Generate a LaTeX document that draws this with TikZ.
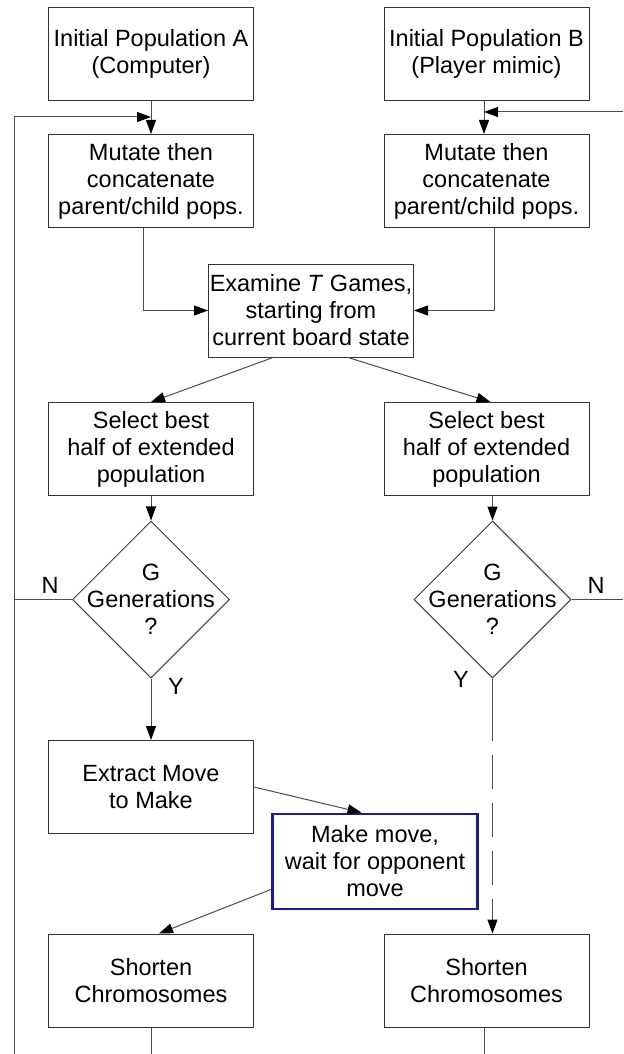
\documentclass[tikz,border=0pt]{standalone}
\usepackage{fontspec}
\setmainfont{Liberation Sans}
\usetikzlibrary{arrows.meta, shapes.geometric}
\definecolor{moveblue}{RGB}{28,28,138}

\begin{document}
\begin{tikzpicture}[x=0.5pt, y=-0.5pt, line width=0.5pt,
    every node/.style={font=\fontsize{11.75}{13.5}\selectfont},
    box/.style={draw=black!80, align=center, minimum width=102.5pt, minimum height=46.5pt, inner sep=0pt},
    decision/.style={draw=black!75, diamond, aspect=1, minimum size=78.5pt, inner sep=0pt},
    link/.style={draw=black!70, -{Triangle[length=7pt, width=5pt, color=black]}}]
        \useasboundingbox (0,0) rectangle (623,1054);

        % The two populations
        \node[box] (iniA) at (151,54) {Initial Population A\\(Computer)};
        \node[box] (iniB) at (486.5,54) {Initial Population B\\(Player mimic)};
        \node[box] (mutA) at (151,181) {Mutate then\\concatenate\\parent/child pops.};
        \node[box] (mutB) at (486.5,181) {Mutate then\\concatenate\\parent/child pops.};

        % The shared evaluation
        \node[box] (exam) at (311,310.5) {Examine \textit{T} Games,\\starting from\\current board state};
        \node[box] (selA) at (151,449) {Select best\\half of extended\\population};
        \node[box] (selB) at (486.5,449) {Select best\\half of extended\\population};

        % The generation tests
        \node[decision] (genA) at (151,599.5) {};
        \node[align=center] (genAtext) at (genA) {G\\Generations\\?};
        \node[decision] (genB) at (492.5,599.5) {};
        \node[align=center] (genBtext) at (genB) {G\\Generations\\?};
        \node (nA) at (50,585) {N};
        \node (nB) at (596,585) {N};
        \node (yA) at (176,686) {Y};
        \node (yB) at (461,679) {Y};

        % The move
        \node[box] (extA) at (151,787) {Extract Move\\to Make};
        \node[box, draw=moveblue, line width=1.4pt, minimum width=102.75pt, minimum height=47.5pt] (make) at (375,861.5) {Make move,\\wait for opponent\\move};
        \node[box] (shoA) at (151,980.5) {Shorten\\Chromosomes};
        \node[box] (shoB) at (486.5,980.5) {Shorten\\Chromosomes};

        % Free ends of the loops
        \coordinate (inA) at (151,117);
        \coordinate (inB) at (484,112);
        \coordinate (leftBot) at (14,1054);
        \coordinate (rightN) at (623,599.5);
        \coordinate (rightTop) at (623,112);
        \coordinate (dashStart) at (492.5,741);
        \coordinate (botA) at (151,1054);
        \coordinate (botB) at (484,1054);

        % The connectors
        \draw[link] (iniA) -- (mutA);
        \draw[link] ([xshift=-1.25pt]iniB.south) -- ([xshift=-1.25pt]mutB.north);
        \draw[link] (leftBot) |- (inA);
        \draw[link] (rightTop) -- (inB);
        \draw[link] ([xshift=-4pt]mutA.south) |- (exam.west);
        \draw[link] ([xshift=4pt]mutB.south) |- (exam.east);
        \draw[link] ([xshift=-19pt]exam.south) -- (selA.north);
        \draw[link] ([xshift=18.5pt]exam.south) -- ([xshift=2pt]selB.north);
        \draw[link] (selA) -- (genA);
        \draw[link] ([xshift=3pt]selB.south) -- (genB.north);
        \draw[black!70] (genA.west) -- (genA.west -| leftBot);
        \draw[black!70] (genB.east) -- (rightN);
        \draw[link] (genA) -- (extA);
        \draw[black!70] (genB.south) -- (dashStart);
        \draw[link, dash pattern=on 17pt off 7pt, dash phase=17pt] (dashStart) -- (dashStart |- shoB.north);
        \draw[link] (extA.east) -- ([xshift=-6.75pt]make.north);
        \draw[link] ([yshift=-14pt]make.west) -- ([xshift=4pt]shoA.north);
        \draw[black!70] (shoA) -- (botA);
        \draw[black!70] ([xshift=-1.25pt]shoB.south) -- (botB);

    \end{tikzpicture}
\end{document}
